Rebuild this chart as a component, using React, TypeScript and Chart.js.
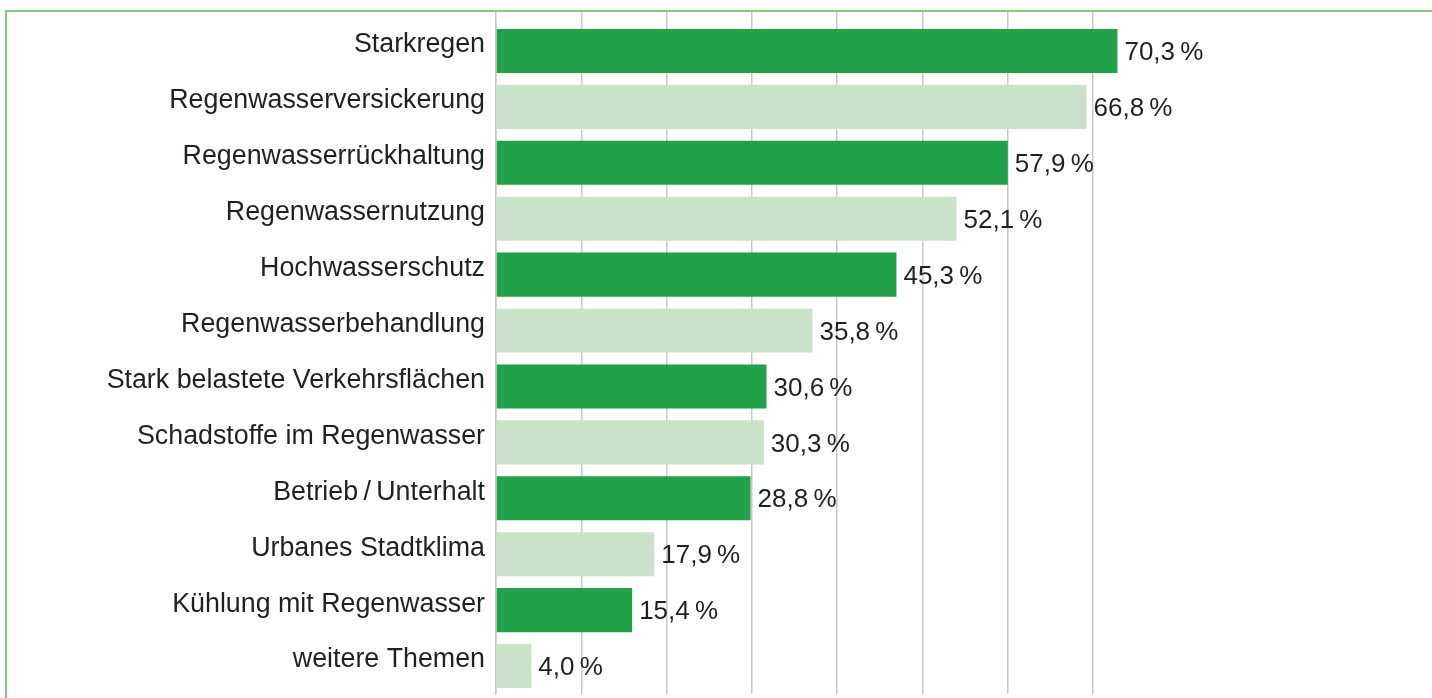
import React, { useEffect, useRef } from "react";
import { Chart, registerables } from "chart.js";

Chart.register(...registerables);

const categories: string[] = [
  "Starkregen",
  "Regenwasserversickerung",
  "Regenwasserrückhaltung",
  "Regenwassernutzung",
  "Hochwasserschutz",
  "Regenwasserbehandlung",
  "Stark belastete Verkehrsflächen",
  "Schadstoffe im Regenwasser",
  "Betrieb\u2009/\u2009Unterhalt",
  "Urbanes Stadtklima",
  "Kühlung mit Regenwasser",
  "weitere Themen",
];

const values: number[] = [70.3, 66.8, 57.9, 52.1, 45.3, 35.8, 30.6, 30.3, 28.8, 17.9, 15.4, 4.0];

const gridTicks: number[] = [0, 9.65, 19.3, 28.95, 38.6, 48.25, 57.9, 67.55];

const DARK = "#21a249";
const LIGHT = "#c9e2c9";
const GRID = "#c8c8c8";
const TEXT = "#231f20";
const FONT = '"Liberation Sans", Arial, Helvetica, sans-serif';

const fmt = (v: number) => v.toFixed(1).replace(".", ",") + "\u2009%";

const valueLabels = {
  id: "valueLabels",
  afterDatasetsDraw(chart: any) {
    const ctx = chart.ctx;
    const meta = chart.getDatasetMeta(0);
    ctx.save();
    ctx.font = `26px ${FONT}`;
    ctx.fillStyle = TEXT;
    ctx.textAlign = "left";
    ctx.textBaseline = "middle";
    meta.data.forEach((el: any, i: number) => {
      ctx.fillText(fmt(values[i]), el.x + 7, el.y + 2);
    });
    ctx.restore();
  },
};

export default function App() {
  const ref = useRef<HTMLCanvasElement | null>(null);

  useEffect(() => {
    if (!ref.current) return;
    const chart = new Chart(ref.current, {
      type: "bar",
      data: {
        labels: categories,
        datasets: [
          {
            data: values,
            backgroundColor: values.map((_, i) => (i % 2 === 0 ? DARK : LIGHT)),
            borderWidth: 0,
            barPercentage: 0.787,
            categoryPercentage: 1,
          },
        ],
      },
      options: {
        indexAxis: "y",
        animation: false,
        responsive: true,
        maintainAspectRatio: false,
        layout: { padding: { top: 11, bottom: 4, left: 0, right: 52 } },
        plugins: {
          legend: { display: false },
          tooltip: { enabled: false },
        },
        scales: {
          x: {
            type: "linear",
            position: "top",
            min: 0,
            max: 100,
            afterBuildTicks: (s: any) => {
              s.ticks = gridTicks.map((v) => ({ value: v }));
            },
            ticks: { display: false },
            grid: {
              color: GRID,
              lineWidth: 1.5,
              drawTicks: true,
              tickLength: 12,
              tickColor: GRID,
              tickWidth: 1.5,
            },
            border: { display: false },
          },
          y: {
            afterFit: (s: any) => {
              s.width = 496;
              s.paddingTop = 0;
              s.paddingBottom = 0;
            },
            grid: { display: false, drawTicks: false },
            border: { display: true, color: GRID, width: 1.5 },
            ticks: {
              color: TEXT,
              font: { family: FONT, size: 26.8 },
              padding: 11,
              labelOffset: -6,
            },
          },
        },
      },
      plugins: [valueLabels],
    } as any);
    return () => chart.destroy();
  }, []);

  return (
    <div
      style={{
        position: "absolute",
        left: 0,
        top: 0,
        width: 1432,
        height: 698,
        overflow: "hidden",
        background: "#fff",
      }}
    >
      <div style={{ position: "absolute", left: 0, top: 0, width: 1432, height: 698 }}>
        <canvas ref={ref} />
      </div>
      <div
        style={{
          position: "absolute",
          left: 5,
          top: 10,
          width: 1427,
          height: 688,
          borderTop: "2px solid #80cd80",
          borderLeft: "2px solid #80cd80",
          boxSizing: "border-box",
          pointerEvents: "none",
        }}
      />
    </div>
  );
}
